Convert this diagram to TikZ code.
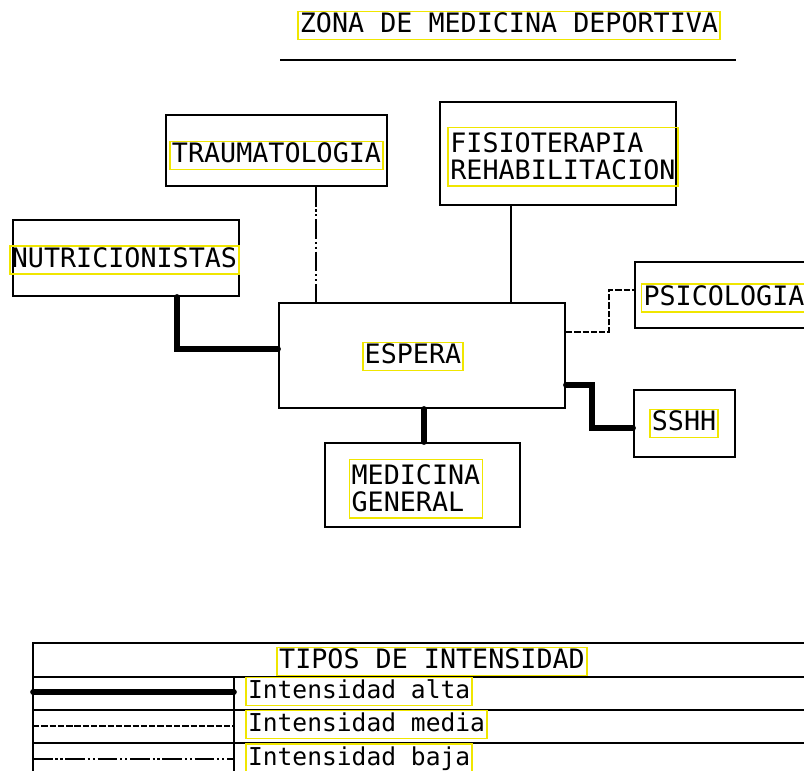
\documentclass[tikz,border=0pt]{standalone}
\usepackage{fontspec}
\setmonofont{DejaVu Sans Mono}
\usepackage{xcolor}
\usepackage{tikz}
\definecolor{cadyellow}{RGB}{240,230,0}
\newcommand{\cadfont}{\ttfamily\fontsize{19}{19}\selectfont}
\newcommand{\cadsmall}{\ttfamily\fontsize{17.5}{19}\selectfont}

\begin{document}
\begin{tikzpicture}[x=0.025cm, y=-0.025cm,
    sala/.style={draw, line width=1.3pt, rectangle, inner sep=0pt},
    txt/.style={draw=cadyellow, line width=1.3pt, inner xsep=1.5pt, inner ysep=1.5pt, font=\cadfont},
    una/.style={txt, text height=13.5pt, text depth=3.5pt},
    dos/.style={txt, align=left, inner ysep=4pt},
    simple/.style={line width=1.3pt},
    alta/.style={line width=4pt, line cap=round},
    media/.style={line width=1.3pt, dash pattern=on 4.5pt off 1.4pt},
    baja/.style={line width=1.3pt, dash pattern=on 14pt off 2pt on 1.5pt off 2pt on 1.5pt off 2pt}]
    \useasboundingbox (0,0) rectangle (804,771);
    \clip (0,0) rectangle (804,771);

    \node[una] (titulo) at (509,25.5) {ZONA DE MEDICINA DEPORTIVA};
    \draw[simple] (280,60) -- (736,60);

    \node[sala, minimum width=5.525cm, minimum height=1.775cm] (trauma) at (276.5,150.5) {};
    \node[sala, minimum width=5.9cm, minimum height=2.575cm] (fisio) at (558,153.5) {};
    \node[sala, minimum width=5.65cm, minimum height=1.9cm] (nutri) at (126,258) {};
    \node[sala, minimum width=4.875cm, minimum height=1.65cm] (psico) at (732.5,295) {};
    \node[sala, minimum width=7.15cm, minimum height=2.625cm] (espera) at (422,355.5) {};
    \node[sala, minimum width=2.525cm, minimum height=1.675cm] (sshh) at (684.5,423.5) {};
    \node[sala, minimum width=4.875cm, minimum height=2.1cm] (medgen) at (422.5,485) {};

    \node[una] (traumatxt) at (276.5,155.5) {TRAUMATOLOGIA};
    \node[dos] (fisiotxt) at (563,156.5) {FISIOTERAPIA\\REHABILITACION};
    \node[una] (nutritxt) at (124.5,260) {NUTRICIONISTAS};
    \node[una] (psicotxt) at (724,298) {PSICOLOGIA};
    \node[una] (esperatxt) at (413,356.5) {ESPERA};
    \node[una] (sshhtxt) at (684,423.5) {SSHH};
    \node[dos] (medgentxt) at (416,488.5) {MEDICINA\\GENERAL};

    \draw[alta] (177,0 |- nutri.south) |- (espera.west |- 0,349);
    \draw[baja] (316,0 |- trauma.south) -- (316,0 |- espera.north);
    \draw[simple] (511,0 |- fisio.south) -- (511,0 |- espera.north);
    \draw[media] (espera.east |- 0,332) -- (609,332) -- (609,290) -- (psico.west |- 0,290);
    \draw[alta] (espera.east |- 0,385) -- (592,385) |- (sshh.west |- 0,428);
    \draw[alta] (424,0 |- espera.south) -- (424,0 |- medgen.north);

    \draw[simple] (33,771) -- (33,643) -- (804,643);
    \draw[simple] (33,677) -- (804,677);
    \draw[line width=2pt] (33,710) -- (804,710);
    \draw[line width=2pt] (33,743) -- (804,743);
    \draw[simple] (234,677) -- (234,771);
    \node[una] (tipos) at (432,661.5) {TIPOS DE INTENSIDAD};
    \node[una, anchor=west, font=\cadsmall] (altatxt) at (245,691.5) {Intensidad alta};
    \node[una, anchor=west, font=\cadsmall] (mediatxt) at (245,724.5) {Intensidad media};
    \node[una, anchor=west, font=\cadsmall] (bajatxt) at (245,758) {Intensidad baja};
    \draw[alta] (33,692) -- (234,692);
    \draw[media] (33,726) -- (234,726);
    \draw[baja] (33,759) -- (234,759);
\end{tikzpicture}
\end{document}
